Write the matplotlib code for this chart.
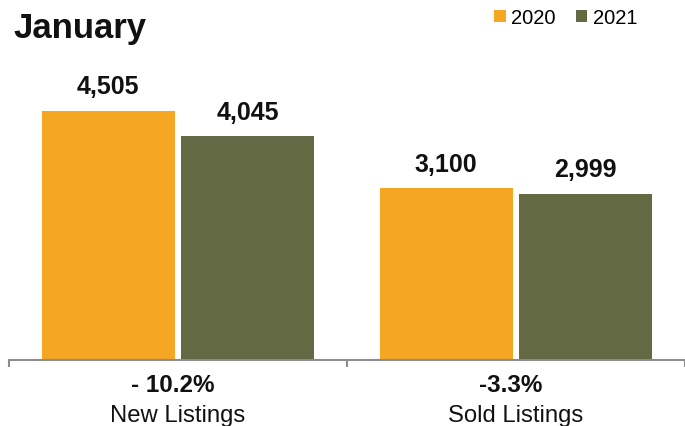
import matplotlib
matplotlib.use("Agg")
import matplotlib.pyplot as plt
import matplotlib.transforms as mtransforms

categories = ["New Listings", "Sold Listings"]
changes = ["- 10.2%", "-3.3%"]
series_names = ["2020", "2021"]
values_2020 = [4505, 3100]
values_2021 = [4045, 2999]
colors = ["#F5A623", "#636A43"]

W, H = 685, 427
fig = plt.figure(figsize=(W / 100, H / 100), dpi=100)
ax_left_px, ax_right_px = 9, 685
ax_bottom_px = 360.5
ax = fig.add_axes([ax_left_px / W, (H - ax_bottom_px) / H,
                   (ax_right_px - ax_left_px) / W, ax_bottom_px / H])

px_per_cat = 339
bar_w = 133 / px_per_cat
off = 70 / px_per_cat
xs = list(range(len(categories)))

bars = []
for k, (vals, col, name) in enumerate(zip([values_2020, values_2021], colors, series_names)):
    sign = -1 if k == 0 else 1
    b = ax.bar([x + sign * off for x in xs], vals, width=bar_w, color=col, label=name, zorder=2)
    bars.append(b)
    for x, v in zip(xs, vals):
        ax.annotate(f"{v:,}", xy=(x + sign * off, v), xytext=(0, 12.5), textcoords="offset points",
                    ha="center", va="baseline", fontsize=18, fontweight="bold",
                    family="Liberation Sans", color="#111111")

ax.set_xlim(-0.5, -0.5 + (ax_right_px - ax_left_px) / px_per_cat)
ax.set_ylim(0, ax_bottom_px * 4505 / 249)

for s in ["top", "left", "right"]:
    ax.spines[s].set_visible(False)
ax.spines["bottom"].set_color("#8C8C8C")
ax.spines["bottom"].set_linewidth(1.5)
ax.set_yticks([])
ax.set_xticks([-0.5, 0.5, 1.5])
ax.set_xticklabels([])
ax.tick_params(axis="x", direction="out", length=5, width=1.5, color="#8C8C8C")

trans = mtransforms.blended_transform_factory(ax.transData, fig.transFigure)
for x, cat, ch in zip(xs, categories, changes):
    ax.annotate(ch, xy=(x, (H - 392) / H), xycoords=trans, xytext=(-3.5, 0),
                textcoords="offset points", ha="center", va="baseline",
                fontsize=17.5, fontweight="bold", family="Liberation Sans", color="#111111",
                annotation_clip=False)
    ax.text(x, (H - 422) / H, cat, transform=trans, ha="center", va="baseline",
            fontsize=17.2, family="Liberation Sans", color="#111111")

fig.text(13 / W, (H - 37.7) / H, "January", ha="left", va="baseline",
         fontsize=25, fontweight="bold", family="Liberation Sans",
         color="#111111")

leg = fig.legend(handles=bars, labels=series_names, loc="center right",
                 bbox_to_anchor=(637 / W, (H - 18.5) / H), ncol=2, frameon=False,
                 handlelength=0.57, handleheight=0.57, handletextpad=0.26,
                 columnspacing=1.0, borderaxespad=0, borderpad=0,
                 prop={"family": "Liberation Sans", "size": 14.5})

fig.savefig("out.png", dpi=100)
